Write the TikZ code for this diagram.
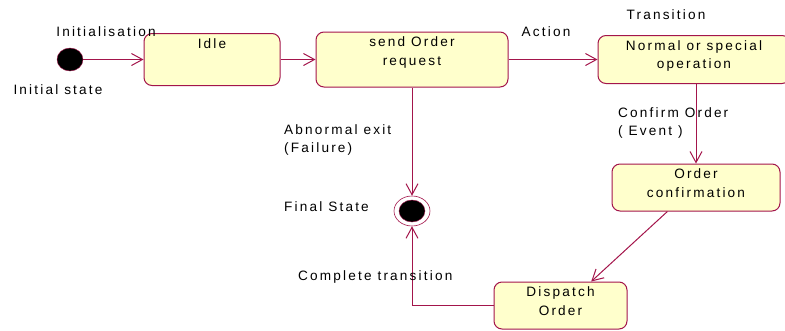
\documentclass[tikz,border=0pt]{standalone}
\usepackage{fontspec}
\setmainfont{Liberation Sans}[LetterSpace=16]
\usetikzlibrary{arrows.meta,shapes.geometric}

\definecolor{umlline}{HTML}{A3154B}
\definecolor{umlfill}{HTML}{FFFFCC}

\tikzset{
  state/.style={draw=umlline, fill=umlfill, line width=1pt, rounded corners=8pt, inner sep=0pt},
  statetext/.style={anchor=north, inner sep=0pt, yshift=-5pt, align=center},
  trans/.style={draw=umlline, line width=1pt, -{Straight Barb[length=11pt,width=12pt,line width=1pt]}},
  lbl/.style={inner sep=0pt, align=left},
}

\begin{document}
\begin{tikzpicture}[x=1pt,y=-1pt, every node/.style={font=\fontsize{13.6}{18.5}\selectfont}]
\useasboundingbox (0,0) rectangle (785,330);

% states
\node[ellipse, draw=umlline, fill=black, minimum width=26pt, minimum height=23pt] (init) at (70,59.5) {};
\node[state, minimum width=136pt, minimum height=52pt, label={[statetext]north:Idle}] (idle) at (212,59.5) {};
\node[state, minimum width=192pt, minimum height=55pt, label={[statetext]north:{send Order\\request}}] (send) at (412,59.5) {};
\node[state, minimum width=192pt, minimum height=48pt, label={[statetext]north:{Normal or special\\operation}}] (normal) at (694,59.5) {};
\node[state, minimum width=168pt, minimum height=47pt, label={[statetext]north:{Order\\confirmation}}] (confirm) at (696,187.5) {};
\node[state, minimum width=133pt, minimum height=47pt, label={[statetext]north:{Dispatch\\Order}}] (dispatch) at (560.5,305.5) {};
\node[ellipse, draw=umlline, fill=white, line width=0.6pt, minimum width=36pt, minimum height=30pt] (final) at (412,211) {};
\node[ellipse, draw=umlline, fill=black, minimum width=26pt, minimum height=22pt] (finaldot) at (final) {};

% transitions
\draw[trans] (init) -- (idle);
\draw[trans] (idle) -- (send);
\draw[trans] (send) -- (normal);
\draw[trans] (normal.south -| confirm.north) -- (confirm.north);
\draw[trans] (send) -- (final);
\draw[trans] (confirm.220) -- (dispatch.38);
\draw[trans] (dispatch.west) -| (final.south);

% labels
\node[lbl] (initlbl) at (106,32) {Initialisation};
\node[lbl] (initstate) at (58,90) {Initial state};
\node[lbl] (actionlbl) at (546,32) {Action};
\node[lbl] (translbl) at (666,15) {Transition};
\node[lbl, anchor=west] (abnormal) at (284,140) {Abnormal exit\\(Failure)};
\node[lbl, anchor=west] (finallbl) at (284,207) {Final State};
\node[lbl, anchor=west] (confirmlbl) at (618,123) {Confirm Order\\( Event )};
\node[lbl, anchor=west] (completelbl) at (298,277) {Complete transition};
\end{tikzpicture}
\end{document}
